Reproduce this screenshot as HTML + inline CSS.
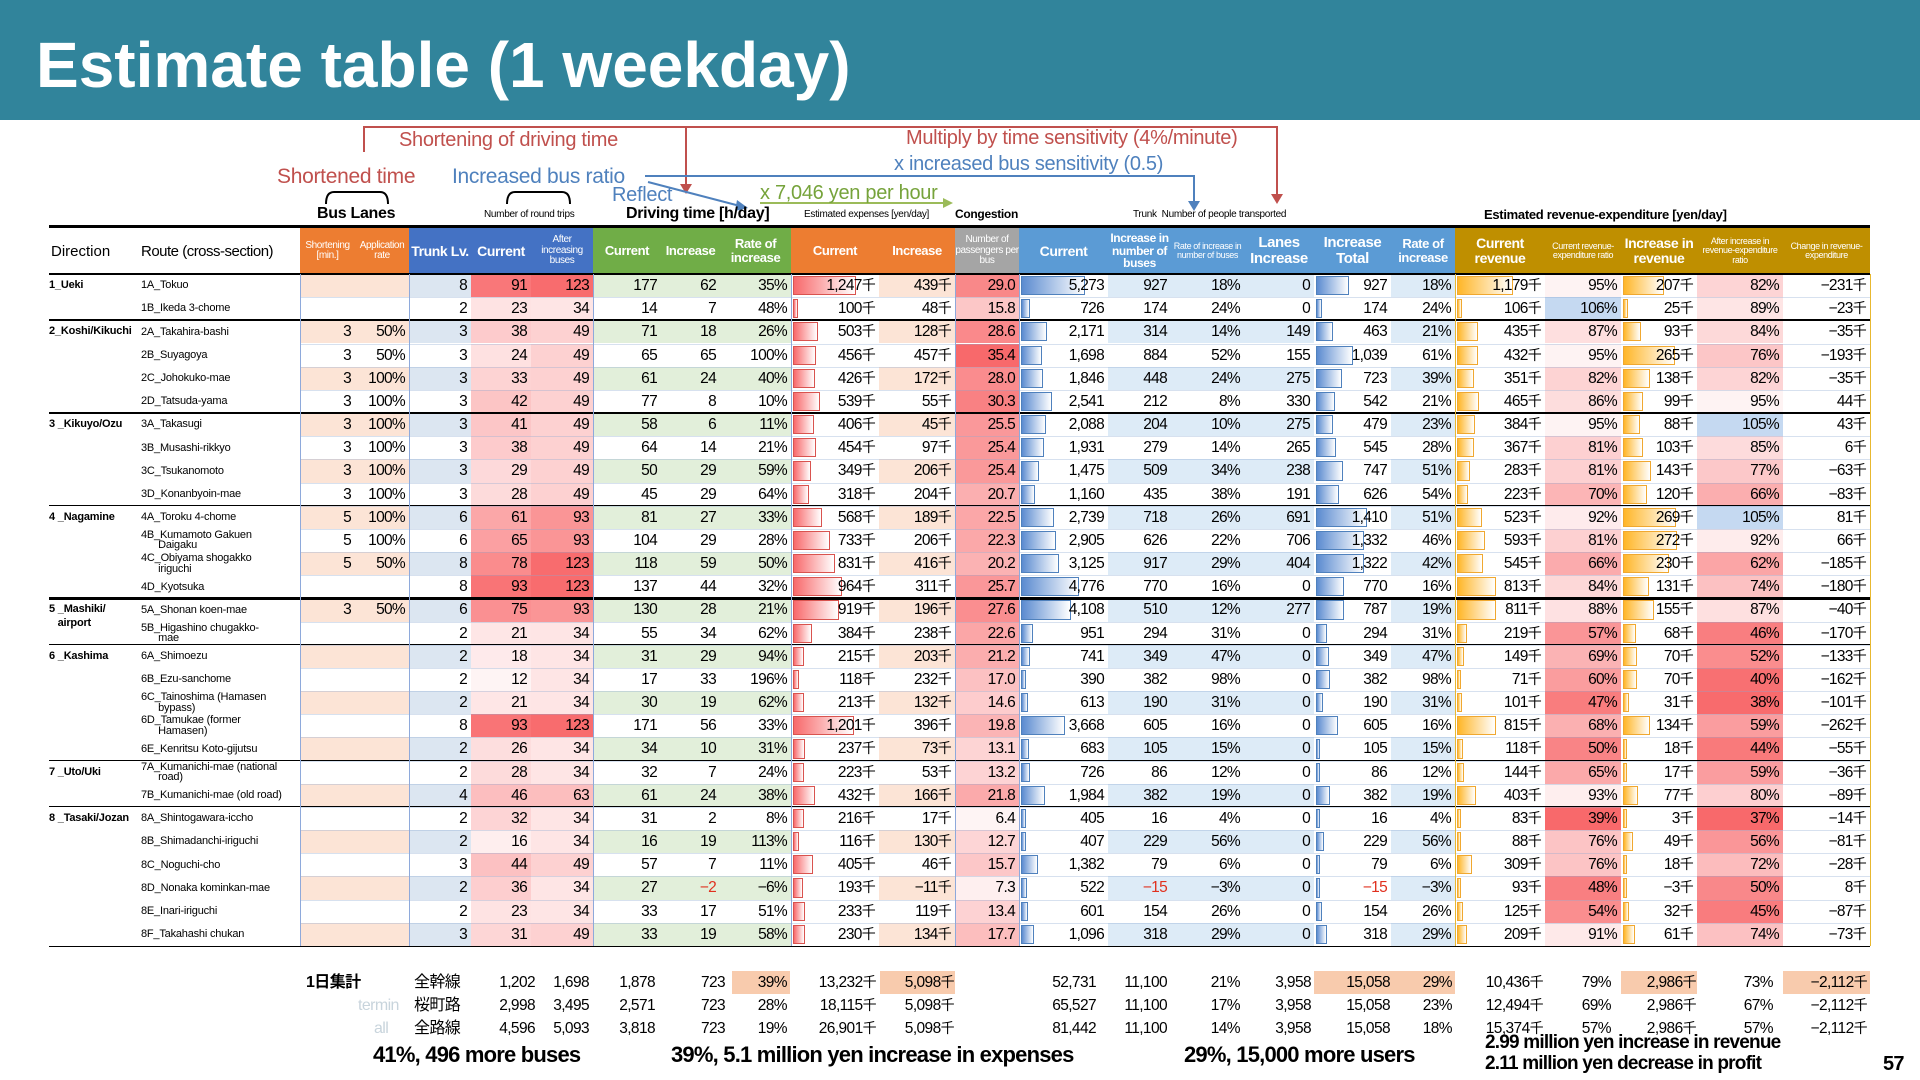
<!DOCTYPE html>
<html><head><meta charset="utf-8">
<style>
*{margin:0;padding:0;box-sizing:border-box}
body{width:1920px;height:1080px;background:#fff;position:relative;overflow:hidden;font-family:"Liberation Sans","Noto Sans CJK JP",sans-serif;color:#000}
.abs{position:absolute}
#title-bar{left:0;top:0;width:1920px;height:120px;background:#31849B}
#title{left:36px;top:28px;font-size:64px;font-weight:bold;color:#fff;white-space:nowrap}
.ann{position:absolute;white-space:nowrap;font-size:20px;letter-spacing:-0.3px}
.cell{position:absolute;font-size:15.5px;letter-spacing:-0.7px;white-space:nowrap;text-align:right;padding-right:4px;overflow:hidden}
.hd{position:absolute;color:#fff;display:flex;align-items:center;justify-content:center;text-align:center;line-height:1.05;letter-spacing:-0.4px}
.sum{position:absolute;font-size:15.5px;letter-spacing:-0.6px;white-space:nowrap;text-align:right;line-height:23px;height:23px}
.cap{position:absolute;font-size:22px;font-weight:bold;letter-spacing:-0.8px;white-space:nowrap}
.k{font-family:"Noto Sans CJK JP",sans-serif;font-size:14px;line-height:10px;vertical-align:0}
</style></head><body>
<div id="title-bar" class="abs"></div>
<div id="title" class="abs">Estimate table (1 weekday)</div>

<svg class="abs" style="left:0;top:0" width="1920" height="280">
 <polyline points="364,152 364,127 1277,127 1277,196" fill="none" stroke="#C0504D" stroke-width="2"/>
 <polygon points="1271,194 1283,194 1277,204" fill="#C0504D"/>
 <polyline points="686,127 686,186" fill="none" stroke="#C0504D" stroke-width="2"/>
 <polygon points="680,184 692,184 686,194" fill="#C0504D"/>
 <polyline points="645,176 1194,176 1194,203" fill="none" stroke="#4F81BD" stroke-width="2"/>
 <polygon points="1188,201 1200,201 1194,211" fill="#4F81BD"/>
 <line x1="648" y1="182" x2="740" y2="206" stroke="#4F81BD" stroke-width="2"/>
 <polygon points="737,200 748,208 735,211" fill="#4F81BD"/>
 <line x1="760" y1="203" x2="945" y2="203" stroke="#9BBB59" stroke-width="2"/>
 <polygon points="943,198 953,203 943,208" fill="#9BBB59"/>
 <path d="M326,204 Q326,192 334,192 L380,192 Q388,192 388,204" fill="none" stroke="#000" stroke-width="2"/>
 <path d="M507,204 Q507,192 515,192 L562,192 Q570,192 570,204" fill="none" stroke="#000" stroke-width="2"/>
</svg>
<div class="ann" style="left:399px;top:129px;color:#C0504D">Shortening of driving time</div>
<div class="ann" style="left:906px;top:127px;color:#C0504D">Multiply by time sensitivity (4%/minute)</div>
<div class="ann" style="left:894px;top:153px;color:#4F81BD">x increased bus sensitivity (0.5)</div>
<div class="ann" style="left:277px;top:165px;color:#C0504D;font-size:21px">Shortened time</div>
<div class="ann" style="left:452px;top:165px;color:#4F81BD;font-size:21px">Increased bus ratio</div>
<div class="ann" style="left:612px;top:184px;color:#4F81BD">Reflect</div>
<div class="ann" style="left:760px;top:182px;color:#76A33B">x 7,046 yen per hour</div>

<div class="ann" style="left:317px;top:205px;font-size:16px;font-weight:bold">Bus Lanes</div>
<div class="ann" style="left:484px;top:209px;font-size:10px">Number of round trips</div>
<div class="ann" style="left:626px;top:205px;font-size:16px;font-weight:bold">Driving time [h/day]</div>
<div class="ann" style="left:804px;top:209px;font-size:10px">Estimated expenses [yen/day]</div>
<div class="ann" style="left:955px;top:207px;font-size:12px;font-weight:bold">Congestion</div>
<div class="ann" style="left:1133px;top:209px;font-size:10px">Trunk &nbsp;Number of people transported</div>
<div class="ann" style="left:1484px;top:207px;font-size:13px;font-weight:bold">Estimated revenue-expenditure [yen/day]</div>

<div id="table"></div>
<div id="summary"></div>

<div class="cap" style="left:373px;top:1042px">41%, 496 more buses</div>
<div class="cap" style="left:671px;top:1042px">39%, 5.1 million yen increase in expenses</div>
<div class="cap" style="left:1184px;top:1042px">29%, 15,000 more users</div>
<div class="cap" style="left:1485px;top:1032px;font-size:19px">2.99 million yen increase in revenue</div>
<div class="cap" style="left:1485px;top:1053px;font-size:19px">2.11 million yen decrease in profit</div>
<div class="cap" style="left:1883px;top:1053px;font-size:20px">57</div>

<script>
const directions=[["1_Ueki",0],["2_Koshi/Kikuchi",2],["3 _Kikuyo/Ozu",6],["4 _Nagamine",10],["5 _Mashiki/\nairport",14],["6 _Kashima",16],["7 _Uto/Uki",21],["8 _Tasaki/Jozan",23]];
const routes=["1A_Tokuo","1B_Ikeda 3-chome","2A_Takahira-bashi","2B_Suyagoya","2C_Johokuko-mae","2D_Tatsuda-yama","3A_Takasugi","3B_Musashi-rikkyo","3C_Tsukanomoto","3D_Konanbyoin-mae","4A_Toroku 4-chome","4B_Kumamoto Gakuen\nDaigaku","4C_Obiyama shogakko\niriguchi","4D_Kyotsuka","5A_Shonan koen-mae","5B_Higashino chugakko-\nmae","6A_Shimoezu","6B_Ezu-sanchome","6C_Tainoshima (Hamasen\nbypass)","6D_Tamukae (former\nHamasen)","6E_Kenritsu Koto-gijutsu","7A_Kumanichi-mae (national\nroad)","7B_Kumanichi-mae (old road)","8A_Shintogawara-iccho","8B_Shimadanchi-iriguchi","8C_Noguchi-cho","8D_Nonaka kominkan-mae","8E_Inari-iriguchi","8F_Takahashi chukan"];
const shortening=[null,null,3,3,3,3,3,3,3,3,5,5,5,null,3,null,null,null,null,null,null,null,null,null,null,null,null,null,null];
const applicationRate=[null,null,50,50,100,100,100,100,100,100,100,100,50,null,50,null,null,null,null,null,null,null,null,null,null,null,null,null,null];
const trunkLv=[8,2,3,3,3,3,3,3,3,3,6,6,8,8,6,2,2,2,2,8,2,2,4,2,2,3,2,2,3];
const tripsCurrent=[91,23,38,24,33,42,41,38,29,28,61,65,78,93,75,21,18,12,21,93,26,28,46,32,16,44,36,23,31];
const tripsAfter=[123,34,49,49,49,49,49,49,49,49,93,93,123,123,93,34,34,34,34,123,34,34,63,34,34,49,34,34,49];
const driveCurrent=[177,14,71,65,61,77,58,64,50,45,81,104,118,137,130,55,31,17,30,171,34,32,61,31,16,57,27,33,33];
const driveIncrease=[62,7,18,65,24,8,6,14,29,29,27,29,59,44,28,34,29,33,19,56,10,7,24,2,19,7,-2,17,19];
const driveRate=[35,48,26,100,40,10,11,21,59,64,33,28,50,32,21,62,94,196,62,33,31,24,38,8,113,11,-6,51,58];
const expCurrent=[1247,100,503,456,426,539,406,454,349,318,568,733,831,964,919,384,215,118,213,1201,237,223,432,216,116,405,193,233,230];
const expIncrease=[439,48,128,457,172,55,45,97,206,204,189,206,416,311,196,238,203,232,132,396,73,53,166,17,130,46,-11,119,134];
const congestion=[29.0,15.8,28.6,35.4,28.0,30.3,25.5,25.4,25.4,20.7,22.5,22.3,20.2,25.7,27.6,22.6,21.2,17.0,14.6,19.8,13.1,13.2,21.8,6.4,12.7,15.7,7.3,13.4,17.7];
const peopleCurrent=[5273,726,2171,1698,1846,2541,2088,1931,1475,1160,2739,2905,3125,4776,4108,951,741,390,613,3668,683,726,1984,405,407,1382,522,601,1096];
const peopleBusInc=[927,174,314,884,448,212,204,279,509,435,718,626,917,770,510,294,349,382,190,605,105,86,382,16,229,79,-15,154,318];
const peopleBusRate=[18,24,14,52,24,8,10,14,34,38,26,22,29,16,12,31,47,98,31,16,15,12,19,4,56,6,-3,26,29];
const lanesInc=[0,0,149,155,275,330,275,265,238,191,691,706,404,0,277,0,0,0,0,0,0,0,0,0,0,0,0,0,0];
const incTotal=[927,174,463,1039,723,542,479,545,747,626,1410,1332,1322,770,787,294,349,382,190,605,105,86,382,16,229,79,-15,154,318];
const incRate=[18,24,21,61,39,21,23,28,51,54,51,46,42,16,19,31,47,98,31,16,15,12,19,4,56,6,-3,26,29];
const revenue=[1179,106,435,432,351,465,384,367,283,223,523,593,545,813,811,219,149,71,101,815,118,144,403,83,88,309,93,125,209];
const revRatio=[95,106,87,95,82,86,95,81,81,70,92,81,66,84,88,57,69,60,47,68,50,65,93,39,76,76,48,54,91];
const revIncrease=[207,25,93,265,138,99,88,103,143,120,269,272,230,131,155,68,70,70,31,134,18,17,77,3,49,18,-3,32,61];
const afterRatio=[82,89,84,76,82,95,105,85,77,66,105,92,62,74,87,46,52,40,38,59,44,59,80,37,56,72,50,45,74];
const changeRE=[-231,-23,-35,-193,-35,44,43,6,-63,-83,81,66,-185,-180,-40,-170,-133,-162,-101,-262,-55,-36,-89,-14,-81,-28,8,-87,-73];
const groupStarts=[2,6,10,14,16,21,23];

const X=[49,141,300,355,409,471,531,593,661,720,791,879,955,1019,1108,1171,1244,1314,1391,1455,1545,1621,1697,1783,1870];
const Y0=274, RH=23.17, HTOP=228;
const T=document.getElementById('table');
function fmt(n){const s=Math.abs(n).toLocaleString('en-US');return (n<0?'\u2212':'')+s;}
function mix(c1,c2,t){t=Math.max(0,Math.min(1,t));const a=[1,3,5].map(i=>parseInt(c1.substr(i,2),16)),b=[1,3,5].map(i=>parseInt(c2.substr(i,2),16));return 'rgb('+a.map((v,i)=>Math.round(v+(b[i]-v)*t)).join(',')+')';}
function box(x,y,w,h,style){const d=document.createElement('div');d.className='abs';d.style.cssText='left:'+x+'px;top:'+y+'px;width:'+w+'px;height:'+h+'px;'+(style||'');T.appendChild(d);return d;}
function setText(d,s){if(s.endsWith('千')){d.innerHTML=s.slice(0,-1)+'<span class="k">千</span>';}else d.textContent=s;}

const heads=[[2,'Shortening [min.]','#ED7D31',10],[3,'Application rate','#ED7D31',10],[4,'Trunk Lv.','#4472C4',14],[5,'Current','#4472C4',14],[6,'After increasing buses','#4472C4',10],[7,'Current','#70AD47',13],[8,'Increase','#70AD47',13],[9,'Rate of increase','#70AD47',13],[10,'Current','#ED7D31',13],[11,'Increase','#ED7D31',13],[12,'Number of passengers per bus','#A5A5A5',10],[13,'Current','#5B9BD5',14],[14,'Increase in number of buses','#5B9BD5',12],[15,'Rate of increase in number of buses','#5B9BD5',9],[16,'Lanes Increase','#5B9BD5',15],[17,'Increase Total','#5B9BD5',15],[18,'Rate of increase','#5B9BD5',13],[19,'Current revenue','#BF8F00',14],[20,'Current revenue-expenditure ratio','#BF8F00',9],[21,'Increase in revenue','#BF8F00',14],[22,'After increase in revenue-expenditure ratio','#BF8F00',9],[23,'Change in revenue-expenditure','#BF8F00',9]];
heads.forEach(h=>{const d=box(X[h[0]],HTOP,X[h[0]+1]-X[h[0]],46,'background:'+h[2]+';font-size:'+h[3]+'px;'+(h[3]>=12?'font-weight:bold;':''));d.className='hd';d.textContent=h[1];

});
const hd1=box(49,HTOP,92,46,'display:flex;align-items:center;font-size:15px;padding-left:2px');hd1.textContent='Direction';


const hd2=box(141,HTOP,159,46,'display:flex;align-items:center;font-size:15px;letter-spacing:-0.5px');hd2.textContent='Route (cross-section)';



const tint={2:'#FCE4D6',3:'#FCE4D6',4:'#DCE6F1',7:'#E2EFDA',8:'#E2EFDA',9:'#E2EFDA',11:'#FCE4D6',14:'#DDEBF7',15:'#DDEBF7',16:'#DDEBF7',18:'#DDEBF7'};
function barCell(c,y,v,max,col,bcol){const w=X[c+1]-X[c];const bw=Math.max(4,(w-6)*Math.max(v,0)/max);box(X[c]+2,y+2,bw,RH-4,'background:linear-gradient(90deg,'+col+',#fff);border:1px solid '+bcol);}
routes.forEach((r,i)=>{
 const y=Y0+i*RH;
 const vals={2:shortening[i]==null?'':''+shortening[i],3:applicationRate[i]==null?'':applicationRate[i]+'%',4:''+trunkLv[i],5:''+tripsCurrent[i],6:''+tripsAfter[i],7:''+driveCurrent[i],8:fmt(driveIncrease[i]),9:fmt(driveRate[i])+'%',10:fmt(expCurrent[i])+'千',11:fmt(expIncrease[i])+'千',12:congestion[i].toFixed(1),13:fmt(peopleCurrent[i]),14:fmt(peopleBusInc[i]),15:fmt(peopleBusRate[i])+'%',16:''+lanesInc[i],17:fmt(incTotal[i]),18:fmt(incRate[i])+'%',19:fmt(revenue[i])+'千',20:revRatio[i]+'%',21:fmt(revIncrease[i])+'千',22:afterRatio[i]+'%',23:fmt(changeRE[i])+'千'};
 for(let c=2;c<=23;c++){
  const w=X[c+1]-X[c];let bg='';
  if(tint[c]&&i%2==0)bg=tint[c];
  if(c==5)bg=mix('#FFFFFF','#F8696B',(tripsCurrent[i]-5)/95);
  if(c==6)bg=mix('#FFFFFF','#F8696B',(tripsAfter[i]-15)/110);
  if(c==12)bg=mix('#FFFFFF','#F8696B',(congestion[i]-4)/31.4);
  if(c==20)bg=revRatio[i]>100?'#C5D9F1':mix('#FFFFFF','#F8696B',(100-revRatio[i])/61);
  if(c==22)bg=afterRatio[i]>100?'#C5D9F1':mix('#FFFFFF','#F8696B',(100-afterRatio[i])/63);
  if(bg)box(X[c],y,w,RH,'background:'+bg);
  if(c==10)barCell(c,y,expCurrent[i],1247*1.3,'#F8696B','#D9534F');
  if(c==13)barCell(c,y,peopleCurrent[i],5273*1.3,'#5B8BD0','#4F81BD');
  if(c==17)barCell(c,y,incTotal[i],1410*1.4,'#5B8BD0','#4F81BD');
  if(c==19)barCell(c,y,revenue[i],1179*1.5,'#FFB628','#F0A830');
  if(c==21)barCell(c,y,revIncrease[i],272*1.3,'#FFB628','#F0A830');
  const d=box(X[c],y,w,RH,'line-height:'+RH+'px');d.className='cell';setText(d,vals[c]);
  if((c==8&&driveIncrease[i]<0)||(c==14&&peopleBusInc[i]<0)||(c==17&&incTotal[i]<0))d.style.color='#E0301E';
  
  
 }
 const rd=box(X[1],y,X[2]-X[1],RH,'font-size:11px;line-height:10.5px;display:flex;align-items:center;white-space:pre;letter-spacing:-0.2px');
 rd.textContent=r.replace('\n','\n      ');
 
 
 if(i>0)box(X[2],y,X[24]-X[2],1,'background:rgba(140,170,210,0.35)');
});
directions.forEach(dr=>{const d=box(49,Y0+dr[1]*RH+4,92,40,'font-size:11px;font-weight:bold;white-space:pre;line-height:14px;letter-spacing:-0.2px');d.textContent=dr[0].replace('\n','\n   ');

});
groupStarts.forEach(g=>box(49,Y0+g*RH-1,X[24]-49,g==14?3:1.5,'background:#000'));
box(49,HTOP-3,X[24]-49,3,'background:#000');
box(49,Y0-1,X[24]-49,1.5,'background:#000');
box(49,Y0+29*RH,X[24]-49,1.5,'background:#000');
[2,4,7,10,12,13,19,24].forEach(c=>box(X[c],Y0,1,29*RH,'background:'+(c>=19?'#E8B830':'#8EA9DB')));

const S=document.getElementById('summary');
const sumRows=[["全幹線",["1,202","1,698","1,878","723","39%","13,232千","5,098千","52,731","11,100","21%","3,958","15,058","29%","10,436千","79%","2,986千","73%","−2,112千"]],["桜町路",["2,998","3,495","2,571","723","28%","18,115千","5,098千","65,527","11,100","17%","3,958","15,058","23%","12,494千","69%","2,986千","67%","−2,112千"]],["全路線",["4,596","5,093","3,818","723","19%","26,901千","5,098千","81,442","11,100","14%","3,958","15,058","18%","15,374千","57%","2,986千","57%","−2,112千"]]];
const sumRight=[535,589,655,725,787,876,954,1096,1167,1240,1311,1390,1452,1543,1611,1696,1773,1867];
[[732,790],[880,955],[1314,1455],[1621,1697],[1783,1870]].forEach(h=>{const d=document.createElement('div');d.className='abs';d.style.cssText='left:'+h[0]+'px;top:971px;width:'+(h[1]-h[0])+'px;height:23px;background:#F8CBAD';S.appendChild(d);});
sumRows.forEach((r,ri)=>{const y=971+ri*23;
 const l=document.createElement('div');l.className='sum';l.style.cssText='left:414px;top:'+y+'px;font-size:16px';l.textContent=r[0];S.appendChild(l);
 r[1].forEach((v,k)=>{const d=document.createElement('div');d.className='sum';d.style.cssText='right:'+(1920-sumRight[k])+'px;top:'+y+'px';
 if(v.endsWith('千'))d.innerHTML=v.slice(0,-1)+'<span class="k">千</span>';else d.textContent=v;
 
 
 S.appendChild(d);});});
[["1日集計",306,971,'#000','bold'],["termin",358,994,'#C8D4DC','normal'],["all",374,1017,'#C8D4DC','normal']].forEach(t=>{const d=document.createElement('div');d.className='sum';d.style.cssText='left:'+t[1]+'px;top:'+t[2]+'px;color:'+t[3]+';font-weight:'+t[4]+';font-size:16px';d.textContent=t[0];S.appendChild(d);});
</script>
</body></html>
